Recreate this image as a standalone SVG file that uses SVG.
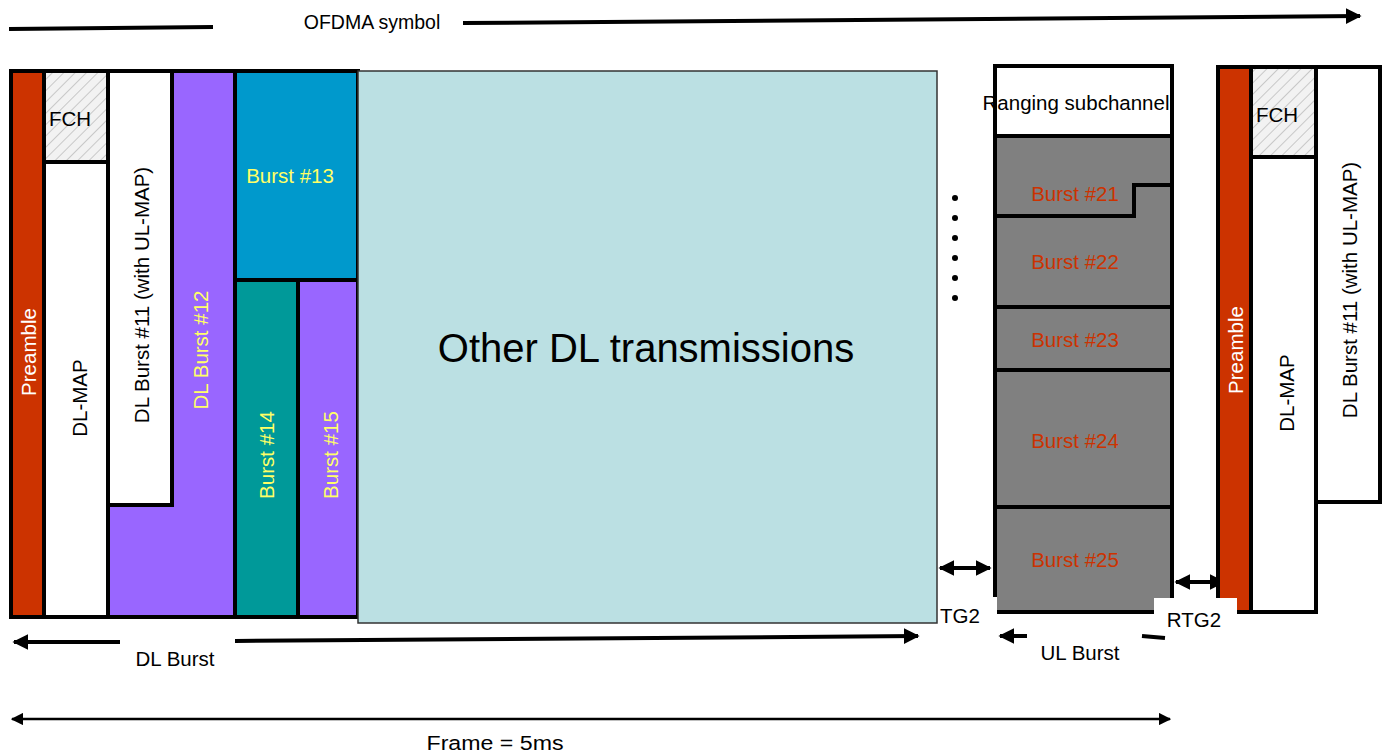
<svg xmlns="http://www.w3.org/2000/svg" width="1386" height="756" viewBox="0 0 1386 756">
<style>
text{font-family:"Liberation Sans",Arial,sans-serif;}
.blk{stroke:#000;stroke-width:4;}
.pre{fill:#CC3300;}
.wht{fill:#fff;}
.pur{fill:#9966FF;}
.lbl{font-size:20.5px;fill:#000;text-anchor:middle;dominant-baseline:central;}
.yl{font-size:20.5px;fill:#FFFF66;text-anchor:middle;dominant-baseline:central;}
.wl{font-size:20.5px;fill:#fff;text-anchor:middle;dominant-baseline:central;}
.rd{font-size:20.5px;fill:#CC3300;text-anchor:middle;dominant-baseline:central;}
.ln{stroke:#000;stroke-width:4;fill:none;}
.thin{stroke:#000;stroke-width:2.5;fill:none;}
</style>
<defs>
<pattern id="hatch" width="8" height="8" patternUnits="userSpaceOnUse" patternTransform="rotate(45)">
<rect width="8" height="8" fill="#F2F2F2"/>
<line x1="0" y1="0" x2="0" y2="8" stroke="#C8C8C8" stroke-width="2"/>
</pattern>
<marker id="ah" viewBox="0 0 10 10" refX="9" refY="5" markerWidth="4" markerHeight="4" orient="auto-start-reverse" markerUnits="strokeWidth">
<path d="M0,0 L10,5 L0,10 z" fill="#000"/>
</marker>
<marker id="ah2" viewBox="0 0 10 10" refX="9" refY="5" markerWidth="5" markerHeight="5" orient="auto-start-reverse" markerUnits="strokeWidth">
<path d="M0,0 L10,5 L0,10 z" fill="#000"/>
</marker>
</defs>
<rect width="1386" height="756" fill="#fff"/>

<g id="connectors">
<line class="ln" x1="9" y1="29" x2="213" y2="27"/>
<line class="ln" x1="463" y1="23" x2="1360" y2="16" marker-end="url(#ah)"/>
<line class="ln" x1="120" y1="642" x2="14" y2="642" marker-end="url(#ah)"/>
<line class="ln" x1="235" y1="641" x2="918" y2="636" marker-end="url(#ah)"/>
<line class="ln" x1="940" y1="568" x2="990" y2="568" marker-start="url(#ah)" marker-end="url(#ah)"/>
<line class="ln" x1="1176" y1="582" x2="1224" y2="582" marker-start="url(#ah)" marker-end="url(#ah)"/>
<line class="ln" x1="1027" y1="636" x2="1000" y2="636" marker-end="url(#ah)"/>
<line class="ln" x1="1142" y1="636" x2="1165" y2="638"/>
<line class="thin" x1="12" y1="719" x2="1170" y2="719" marker-start="url(#ah2)" marker-end="url(#ah2)"/>
</g>

<g id="ofdma-label"><text x="372" y="22" font-size="19.5" text-anchor="middle" dominant-baseline="central" fill="#000">OFDMA symbol</text></g>

<g id="preamble-left">
<rect class="blk pre" x="11" y="71" width="33" height="546"/>
<text class="wl" transform="translate(28,352) rotate(-90)">Preamble</text>
</g>
<g id="fch-left">
<rect class="blk" fill="url(#hatch)" x="44" y="71" width="64" height="91"/>
<text class="lbl" x="70" y="118">FCH</text>
</g>
<g id="dlmap-left">
<rect class="blk wht" x="44" y="162" width="64" height="455"/>
<text class="lbl" transform="translate(79,398) rotate(-90)">DL-MAP</text>
</g>
<g id="dlburst12">
<path class="blk pur" d="M172,71 H235 V617 H108 V505 H172 Z"/>
<text class="yl" transform="translate(200,350) rotate(-90)">DL Burst #12</text>
</g>
<g id="dlburst11-left">
<rect class="blk wht" x="108" y="71" width="64" height="434"/>
<text class="lbl" transform="translate(141,295) rotate(-90)">DL Burst #11  (with UL-MAP)</text>
</g>
<g id="burst13">
<rect class="blk" fill="#0099CC" x="235" y="71" width="123" height="209"/>
<text class="yl" x="290" y="175">Burst #13</text>
</g>
<g id="burst14">
<rect class="blk" fill="#009999" x="235" y="280" width="63" height="337"/>
<text class="yl" transform="translate(266,455) rotate(-90)">Burst #14</text>
</g>
<g id="burst15">
<rect class="blk pur" x="298" y="280" width="60" height="337"/>
<text class="yl" transform="translate(330,455) rotate(-90)">Burst #15</text>
</g>
<g id="other-dl">
<rect fill="#BBE0E3" stroke="#333" stroke-width="1.5" x="358" y="71" width="579" height="552"/>
<text x="646" y="348" font-size="40" text-anchor="middle" dominant-baseline="central" fill="#000">Other DL transmissions</text>
</g>

<g id="dots" fill="#000">
<circle cx="955" cy="198" r="3"/>
<circle cx="955" cy="218" r="3"/>
<circle cx="955" cy="238" r="3"/>
<circle cx="955" cy="258" r="3"/>
<circle cx="955" cy="278" r="3"/>
<circle cx="955" cy="298" r="3"/>
</g>

<g id="ul-burst-area">
<rect class="blk" fill="#808080" x="995" y="136" width="177" height="476"/>
<path class="ln" d="M995,216 H1134 V185 H1172"/>
<line class="ln" x1="995" y1="307" x2="1172" y2="307"/>
<line class="ln" x1="995" y1="370" x2="1172" y2="370"/>
<line class="ln" x1="995" y1="507" x2="1172" y2="507"/>
<text class="rd" x="1075" y="193">Burst #21</text>
<text class="rd" x="1075" y="261">Burst #22</text>
<text class="rd" x="1075" y="339">Burst #23</text>
<text class="rd" x="1075" y="440">Burst #24</text>
<text class="rd" x="1075" y="559">Burst #25</text>
</g>
<g id="ranging">
<rect class="blk wht" x="995" y="66" width="177" height="70"/>
<text class="lbl" x="1076" y="102">Ranging subchannel</text>
</g>

<g id="preamble-right">
<rect class="blk pre" x="1218" y="67" width="33" height="545"/>
<text class="wl" transform="translate(1235,350) rotate(-90)">Preamble</text>
</g>
<g id="fch-right">
<rect class="blk" fill="url(#hatch)" x="1251" y="67" width="65" height="90"/>
<text class="lbl" x="1277" y="114">FCH</text>
</g>
<g id="dlmap-right">
<rect class="blk wht" x="1251" y="157" width="65" height="455"/>
<text class="lbl" transform="translate(1286,393) rotate(-90)">DL-MAP</text>
</g>
<g id="dlburst11-right">
<rect class="blk wht" x="1316" y="67" width="64" height="435"/>
<text class="lbl" transform="translate(1349,290) rotate(-90)">DL Burst #11  (with UL-MAP)</text>
</g>

<g id="tg2-label">
<rect fill="#fff" x="939" y="597" width="58" height="30"/>
<text class="lbl" x="960" y="615">TG2</text>
</g>
<g id="rtg2-label">
<rect fill="#fff" x="1154" y="598" width="83" height="30"/>
<text class="lbl" x="1194" y="619">RTG2</text>
</g>
<g id="dlburst-label"><text class="lbl" x="175" y="658">DL Burst</text></g>
<g id="ulburst-label"><text class="lbl" x="1080" y="652">UL Burst</text></g>
<g id="frame-label"><text class="lbl" x="495" y="742" textLength="137" lengthAdjust="spacingAndGlyphs">Frame = 5ms</text></g>
</svg>
